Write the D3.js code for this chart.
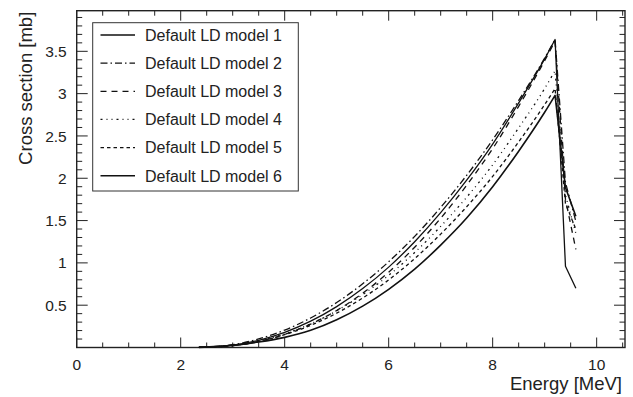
<!DOCTYPE html>
<html>
<head>
<meta charset="utf-8">
<script src="https://cdn.jsdelivr.net/npm/d3@7"></script>
<style>
	html, body { margin: 0; padding: 0; background: #fff; }
	svg { display: block; font-family: "Liberation Sans", Arial, Helvetica, sans-serif; }
</style>
</head>
<body>
<svg id="chart" width="633" height="397"></svg>
<script>
// energies (MeV) shared by all series
const energies = [2.35, 3.0, 3.5, 4.0, 4.5, 5.0, 5.5, 6.0, 6.5, 7.0, 7.5, 8.0, 8.5, 9.0, 9.2, 9.4, 9.6];

// cross sections (mb)
const model1 = [0.002, 0.027, 0.085, 0.179, 0.311, 0.483, 0.696, 0.950, 1.250, 1.593, 1.977, 2.404, 2.890, 3.410, 3.640, 0.960, 0.700];
const model2 = [0.003, 0.033, 0.101, 0.206, 0.349, 0.531, 0.753, 1.013, 1.313, 1.655, 2.035, 2.455, 2.920, 3.420, 3.640, 1.950, 1.490];
const model3 = [0.002, 0.021, 0.071, 0.155, 0.276, 0.438, 0.642, 0.890, 1.185, 1.527, 1.917, 2.350, 2.850, 3.390, 3.620, 1.750, 1.160];
const model4 = [0.002, 0.024, 0.076, 0.161, 0.279, 0.434, 0.625, 0.853, 1.123, 1.431, 1.776, 2.159, 2.596, 3.060, 3.270, 1.800, 1.350];
const model5 = [0.002, 0.022, 0.071, 0.151, 0.262, 0.406, 0.585, 0.799, 1.051, 1.340, 1.663, 2.022, 2.430, 2.870, 3.060, 1.700, 1.400];
const model6 = [0.001, 0.025, 0.065, 0.120, 0.203, 0.328, 0.489, 0.688, 0.926, 1.210, 1.530, 1.900, 2.320, 2.780, 2.980, 1.890, 1.550];

const seriesNames = ["Default LD model 1", "Default LD model 2", "Default LD model 3",
	"Default LD model 4", "Default LD model 5", "Default LD model 6"];
const seriesValues = [model1, model2, model3, model4, model5, model6];

const xTicks = [0, 2, 4, 6, 8, 10];
const yTicks = [0.5, 1, 1.5, 2, 2.5, 3, 3.5];

const dashes = ["", "7,3,1.5,3", "6,5", "2,4,1,4,1,4", "3.5,3", ""];
const widths = [1.3, 1.3, 1.3, 1.3, 1.3, 1.6];

const svg = d3.select("#chart");
const margin = { top: 10.7, right: 8, bottom: 49.5, left: 76.7 };
const W = 633, H = 397;

const x = d3.scaleLinear().domain([0, 10.545]).range([margin.left, W - margin.right]);
const y = d3.scaleLinear().domain([0, 3.98]).range([H - margin.bottom, margin.top]);

const minorX = d3.range(0, 10.51, 0.5);
const minorY = d3.range(0.1, 3.95, 0.1);

// ticks, inward, mirrored on all four sides
const tickG = svg.append("g").attr("stroke", "#222").attr("stroke-width", 1);
const isMajorX = (v) => Math.abs(v / 2 - Math.round(v / 2)) < 1e-6;
const isMajorY = (v) => Math.abs(v / 0.5 - Math.round(v / 0.5)) < 1e-6;

tickG.selectAll("line.xb").data(minorX).join("line")
	.attr("class", "xb")
	.attr("x1", (d) => x(d)).attr("x2", (d) => x(d))
	.attr("y1", y(0)).attr("y2", (d) => y(0) - (isMajorX(d) ? 10 : 5));
tickG.selectAll("line.xt").data(minorX).join("line")
	.attr("class", "xt")
	.attr("x1", (d) => x(d)).attr("x2", (d) => x(d))
	.attr("y1", margin.top).attr("y2", (d) => margin.top + (isMajorX(d) ? 10 : 5));
tickG.selectAll("line.yl").data(minorY).join("line")
	.attr("class", "yl")
	.attr("y1", (d) => y(d)).attr("y2", (d) => y(d))
	.attr("x1", margin.left).attr("x2", (d) => margin.left + (isMajorY(d) ? 11 : 5.5));
tickG.selectAll("line.yr").data(minorY).join("line")
	.attr("class", "yr")
	.attr("y1", (d) => y(d)).attr("y2", (d) => y(d))
	.attr("x1", W - margin.right).attr("x2", (d) => W - margin.right - (isMajorY(d) ? 11 : 5.5));

// frame
svg.append("rect")
	.attr("x", margin.left).attr("y", margin.top)
	.attr("width", W - margin.right - margin.left)
	.attr("height", y(0) - margin.top)
	.attr("fill", "none").attr("stroke", "#222").attr("stroke-width", 1.4);

// tick labels
svg.append("g").selectAll("text").data(xTicks).join("text")
	.attr("x", (d) => x(d)).attr("y", y(0) + 22)
	.attr("text-anchor", "middle").attr("font-size", 15.5).attr("fill", "#222")
	.text((d) => d);
svg.append("g").selectAll("text").data(yTicks).join("text")
	.attr("x", margin.left - 10).attr("y", (d) => y(d))
	.attr("dy", "0.36em")
	.attr("text-anchor", "end").attr("font-size", 15.5).attr("fill", "#222")
	.text((d) => d);

// axis titles
svg.append("text")
	.attr("x", W - 11).attr("y", 390)
	.attr("text-anchor", "end").attr("font-size", 18.5).attr("fill", "#222")
	.text("Energy [MeV]");
svg.append("text")
	.attr("transform", `translate(32,${margin.top + 1}) rotate(-90)`)
	.attr("text-anchor", "end").attr("font-size", 18.5).attr("fill", "#222")
	.text("Cross section [mb]");

// curves: smooth rise up to the peak, straight segments after it
const peakIndex = energies.indexOf(9.2);
const pts = (vals) => vals.map((v, i) => [energies[i], v]);

const rise = d3.line()
	.x((d) => x(d[0]))
	.y((d) => y(d[1]))
	.curve(d3.curveMonotoneX);
const fall = d3.line()
	.x((d) => x(d[0]))
	.y((d) => y(d[1]));

const curveD = (vals) => {
	const p = pts(vals);
	const a = rise(p.slice(0, peakIndex + 1));
	const b = fall(p.slice(peakIndex));
	return a + "L" + b.slice(1);
};

svg.append("g").attr("fill", "none")
	.selectAll("path").data(seriesValues).join("path")
	.attr("d", (d) => curveD(d))
	.attr("stroke", "#111")
	.attr("stroke-width", (d, i) => widths[i])
	.attr("stroke-dasharray", (d, i) => dashes[i] || null)
	.attr("stroke-linejoin", "round");

// legend
const legX = 92.7, legY = 22.7, legW = 205.6, legH = 168.3, rowH = 28.15;
svg.append("rect")
	.attr("x", legX).attr("y", legY).attr("width", legW).attr("height", legH)
	.attr("fill", "#fff").attr("stroke", "#333").attr("stroke-width", 1);

const rows = svg.append("g").selectAll("g").data(seriesNames).join("g")
	.attr("transform", (d, i) => `translate(0,${legY + 12.3 + i * rowH})`);
rows.append("line")
	.attr("x1", 100.5).attr("x2", 135).attr("y1", 0).attr("y2", 0)
	.attr("stroke", "#111")
	.attr("stroke-width", (d, i) => widths[i])
	.attr("stroke-dasharray", (d, i) => dashes[i] || null);
rows.append("text")
	.attr("x", 145).attr("y", 0).attr("dy", "0.36em")
	.attr("font-size", 16).attr("fill", "#222")
	.text((d) => d);
</script>
</body>
</html>
